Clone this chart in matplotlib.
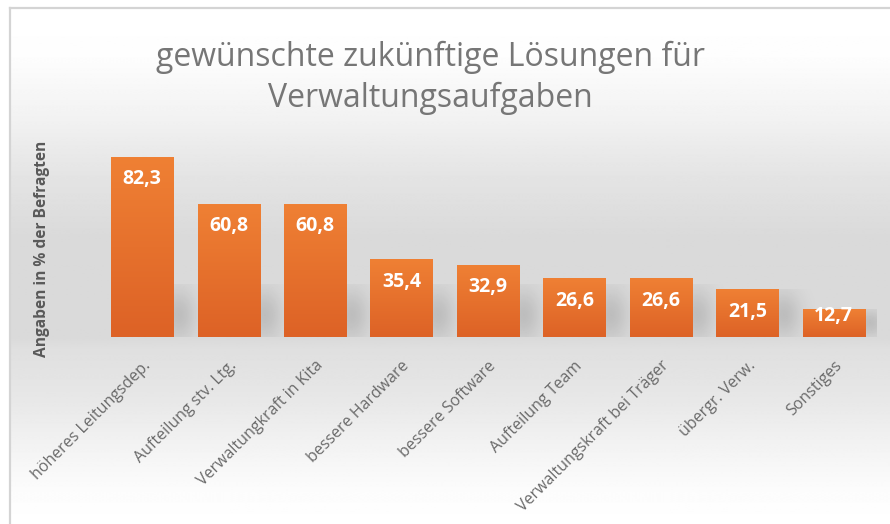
import numpy as np
import matplotlib.pyplot as plt
from matplotlib.colors import LinearSegmentedColormap

# Chart data
categories = ['höheres Leitungsdep.', 'Aufteilung stv. Ltg.', 'Verwaltungkraft in Kita',
              'bessere Hardware', 'bessere Software', 'Aufteilung Team',
              'Verwaltungskraft bei Träger', 'übergr. Verw.', 'Sonstiges']
values = [82.3, 60.8, 60.8, 35.4, 32.9, 26.6, 26.6, 21.5, 12.7]
title_lines = ['gewünschte zukünftige Lösungen für', 'Verwaltungsaufgaben']
ylabel = 'Angaben in % der Befragten'

plt.rcParams['font.family'] = ['Open Sans', 'DejaVu Sans']

W, H = 890, 524
fig = plt.figure(figsize=(W / 100, H / 100), dpi=100)

# Background: gray band in the middle, fading to white at top and bottom
bg = fig.add_axes([0, 0, 1, 1])
bg.set_xlim(0, W)
bg.set_ylim(H, 0)
bg.axis('off')
stop_y = [8, 50, 110, 170, 230, 335, 345, 400, 450, 490, 524]
stop_v = [255, 253, 242, 228, 218, 218, 223, 232, 244, 252, 255]
grad = np.interp(np.arange(H), stop_y, stop_v)
bg.imshow(np.repeat(grad[:, None], 2, axis=1), extent=[10, W, H, 8],
          cmap='gray', vmin=0, vmax=255, aspect='auto', interpolation='bilinear')
bg.plot([10, 10], [8, H], color='#d4d4d4', lw=1.6)
bg.plot([10, W], [8, 8], color='#d4d4d4', lw=1.6)
bg.set_xlim(0, W)
bg.set_ylim(H, 0)

# Title
for line, ty in zip(title_lines, [57, 98]):
    fig.text(430 / W, 1 - ty / H, line, ha='center', va='center',
             fontsize=23, color='#767676')

# Main axes
ymax = 90
ax = fig.add_axes([99 / W, (H - 337) / H, 778 / W, ymax * 2.187 / H])
ax.patch.set_alpha(0)
x = np.arange(len(categories))
bars = ax.bar(x, values, width=0.72, color='none', zorder=3)

orange = LinearSegmentedColormap.from_list('orange', ['#dd6226', '#ef8034'])
g = np.linspace(0, 1, 100)[:, None]
for b in bars:
    x0, w, h = b.get_x(), b.get_width(), b.get_height()
    # bar fill gradient
    ax.imshow(g[::-1], extent=[x0, x0 + w, 0, h], cmap=orange, aspect='auto',
              zorder=3, interpolation='bilinear')
    # soft shadow to the right of the bar
    sx0, sx1 = x0 + w - 0.1, x0 + w + 0.42
    sh = min(h, 24)
    xs = np.linspace(0, 1, 60)
    ys = np.linspace(0, 1, 60)[:, None]
    ax_prof = np.exp(-((xs - 0.3) / 0.4) ** 2)
    y_peak = min(10, h * 0.5) / sh
    ay_prof = np.exp(-((ys - y_peak) / 0.5) ** 2)
    alpha = 0.13 * ay_prof * ax_prof
    rgba = np.zeros((60, 60, 4))
    rgba[..., 3] = alpha[::-1]
    ax.imshow(rgba, extent=[sx0, sx1, 0, sh], aspect='auto', zorder=2,
              interpolation='bilinear')

    ax.text(x0 + w / 2, max(h - 10.2, 9.6), f'{h:.1f}'.replace('.', ','),
            ha='center', va='center', color='white', fontsize=14,
            fontweight='bold', zorder=4)

ax.set_xlim(-0.5, len(categories) - 0.5)
ax.set_ylim(0, ymax)
ax.set_xticks(x)
ax.set_xticklabels(categories, rotation=45, ha='right', va='top',
                   rotation_mode='anchor', fontsize=11.5, color='#6a6a6a')
ax.tick_params(axis='x', length=0, pad=15)
ax.set_yticks([])
for s in ax.spines.values():
    s.set_visible(False)

ax.set_ylabel(ylabel, fontsize=11.2, fontweight='bold', color='#595959')
ax.yaxis.set_label_coords(-0.063, 0.45)

fig.savefig('out.png', dpi=100)
